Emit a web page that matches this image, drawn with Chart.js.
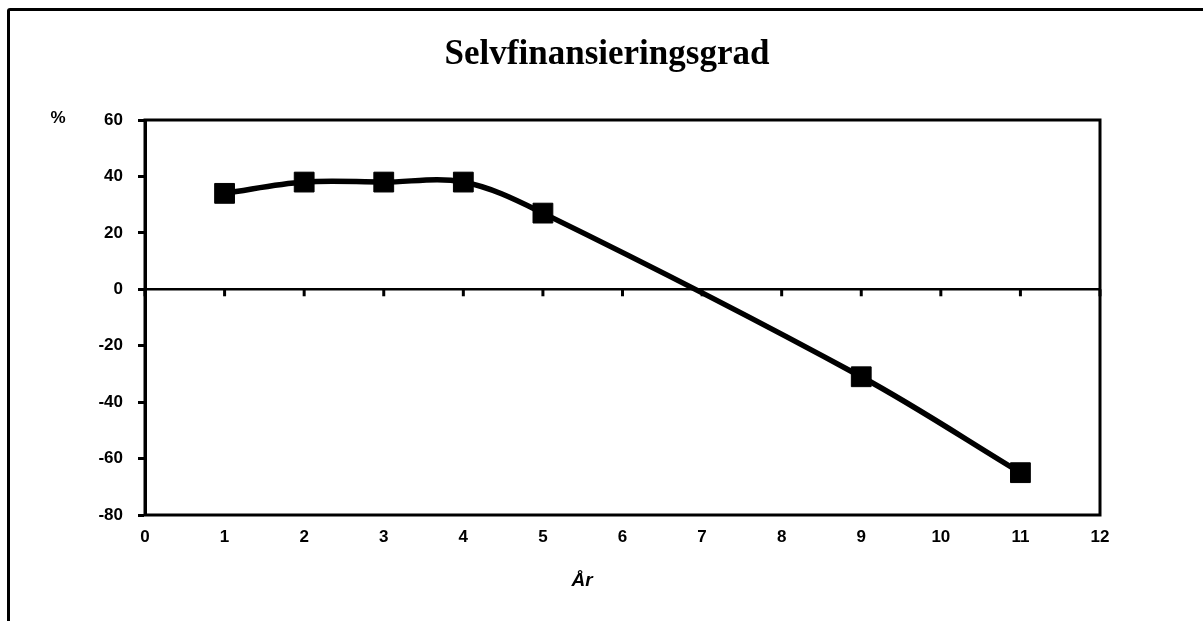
<!DOCTYPE html>
<html>
<head>
<meta charset="utf-8">
<script src="https://cdn.jsdelivr.net/npm/chart.js@4.4.1/dist/chart.umd.min.js"></script>
<style>
  html, body { margin: 0; padding: 0; background: #fff; overflow: hidden; }
  #wrap { position: relative; width: 1203px; height: 621px; }
  #frame { position: absolute; left: 7px; top: 8px; width: 1400px; height: 800px; border: 3px solid #000; border-radius: 3px; box-sizing: border-box; }
  canvas { position: absolute; left: 0; top: 0; }
</style>
</head>
<body>
<div id="wrap">
  <div id="frame"></div>
  <canvas id="c" width="1203" height="621"></canvas>
</div>
<script>
// Self-financing ratio per year
const years = [1, 2, 3, 4, 5, 9, 11];
const ratio = [34, 38, 38, 38, 27, -31, -65];
const yTicks = [-80, -60, -40, -20, 0, 20, 40, 60];
const xTicks = [0, 1, 2, 3, 4, 5, 6, 7, 8, 9, 10, 11, 12];

const titleText = 'Selvfinansieringsgrad';
const yUnit = '%';
const xName = 'År';

const tickFont = { family: 'Liberation Sans, Arial, sans-serif', size: 17, weight: 'bold' };

// Title, plot frame, zero line with its tick marks, and axis captions
const framePlugin = {
  id: 'frame',
  afterDatasetsDraw(chart) {
    const { ctx, chartArea: a, scales: { x, y } } = chart;
    ctx.save();
    ctx.fillStyle = '#000';
    ctx.textAlign = 'center';
    ctx.textBaseline = 'middle';
    ctx.font = 'bold 35px "Liberation Serif", "Times New Roman", serif';
    ctx.fillText(titleText, 607, 55);

    ctx.strokeStyle = '#000';
    ctx.lineWidth = 3;
    ctx.strokeRect(a.left, a.top, a.right - a.left, a.bottom - a.top);
    const y0 = y.getPixelForValue(0);
    ctx.lineWidth = 2.5;
    ctx.beginPath();
    ctx.moveTo(a.left, y0);
    ctx.lineTo(a.right, y0);
    ctx.stroke();
    ctx.lineWidth = 3;
    xTicks.forEach(v => {
      const px = x.getPixelForValue(v);
      ctx.beginPath();
      ctx.moveTo(px, y0);
      ctx.lineTo(px, y0 + 7);
      ctx.stroke();
    });
    ctx.font = 'bold 17px "Liberation Sans", Arial, sans-serif';
    ctx.fillText(yUnit, 58, 118);
    ctx.font = 'bold italic 19px "Liberation Sans", Arial, sans-serif';
    ctx.fillText(xName, 582, 581);
    ctx.restore();
  }
};

new Chart(document.getElementById('c'), {
  type: 'line',
  data: {
    datasets: [{
      data: years.map((yr, i) => ({ x: yr, y: ratio[i] })),
      borderColor: '#000',
      backgroundColor: '#000',
      borderWidth: 5.5,
      tension: 0.35,
      pointStyle: 'rect',
      pointRadius: 14,
      pointBorderWidth: 1,
      pointBorderColor: '#000',
      pointBackgroundColor: '#000',
      clip: false
    }]
  },
  options: {
    responsive: false,
    animation: false,
    layout: { padding: { left: 0, right: 103, bottom: 0, top: 120 } },
    plugins: {
      legend: { display: false },
      tooltip: { enabled: false },
      title: { display: false }
    },
    scales: {
      x: {
        type: 'linear',
        min: 0,
        max: 12,
        afterBuildTicks: s => { s.ticks = xTicks.map(v => ({ value: v })); },
        afterFit: s => { s.height = 106; },
        grid: { display: false, drawTicks: false },
        border: { display: false },
        ticks: { color: '#000', font: tickFont, padding: 12, maxRotation: 0 }
      },
      y: {
        min: -80,
        max: 60,
        afterBuildTicks: s => { s.ticks = yTicks.map(v => ({ value: v })); },
        afterFit: s => { s.width = 145; },
        grid: { drawOnChartArea: false, drawTicks: true, tickLength: 7, tickColor: '#000', tickWidth: 3 },
        border: { display: true, color: '#000', width: 3 },
        ticks: { color: '#000', font: tickFont, padding: 15 }
      }
    }
  },
  plugins: [framePlugin]
});
</script>
</body>
</html>
